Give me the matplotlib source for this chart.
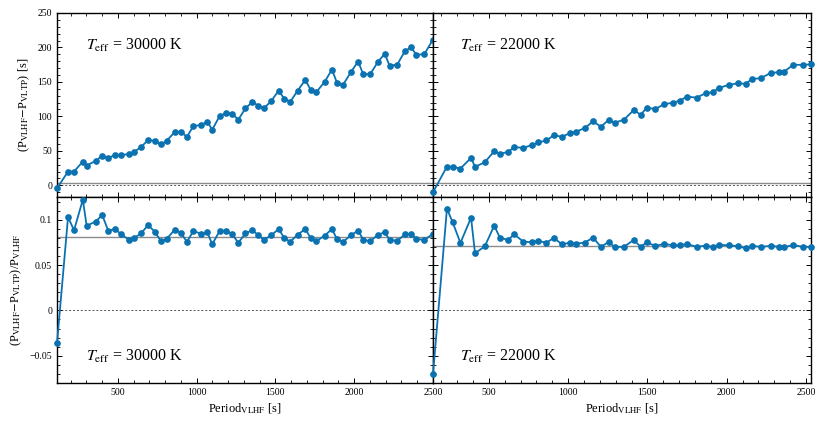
import numpy as np
import matplotlib
matplotlib.use("Agg")
import matplotlib.pyplot as plt
from matplotlib.ticker import MultipleLocator, FuncFormatter

plt.rcParams['font.family'] = ['Liberation Serif', 'DejaVu Serif']
plt.rcParams['mathtext.fontset'] = 'stix'

# ---- data: Teff = 30000 K ----
period_30 = [114, 184, 222, 278, 302, 359, 401, 439, 483, 519, 572, 605, 648, 692, 734,
             774, 810, 861, 899, 939, 979, 1027, 1068, 1099, 1146, 1188, 1226, 1264, 1310,
             1354, 1392, 1428, 1473, 1521, 1557, 1595, 1641, 1690, 1724, 1759, 1812, 1859,
             1890, 1930, 1981, 2025, 2057, 2101, 2152, 2194, 2224, 2272, 2323, 2361, 2395,
             2445, 2498]
dp_30 = [-4.4, 19.9, 19.9, 34.5, 28.6, 35.4, 42.7, 39.3, 44.2, 44.2, 45.1, 48.5, 55.8, 65.5,
         64.6, 59.2, 64.6, 77.2, 77.7, 70.4, 85.9, 87.4, 92.2, 80.6, 100.5, 104.9, 103.9, 95.1,
         111.7, 120.9, 115.5, 111.7, 122.3, 137.4, 125.2, 121.4, 137.4, 152.9, 138.3, 135.0,
         150.0, 168.0, 149.0, 146.1, 165.0, 179.6, 161.2, 161.2, 179.6, 190.8, 173.8, 174.8,
         195.1, 200.0, 189.3, 190.3, 210.7]
rel_30 = [-0.0363, 0.1029, 0.0883, 0.122, 0.0934, 0.0978, 0.1051, 0.0879, 0.0897, 0.0842,
          0.0777, 0.0799, 0.0850, 0.0941, 0.0868, 0.0762, 0.0788, 0.0890, 0.0857, 0.0755,
          0.0875, 0.0846, 0.0861, 0.0729, 0.0875, 0.0879, 0.0842, 0.0744, 0.0850, 0.0883,
          0.0828, 0.0777, 0.0828, 0.0897, 0.0795, 0.0758, 0.0835, 0.0897, 0.0795, 0.0762,
          0.0824, 0.0897, 0.0788, 0.0755, 0.0832, 0.0879, 0.0780, 0.0762, 0.0835, 0.0861,
          0.0780, 0.0766, 0.0839, 0.0842, 0.0788, 0.0777, 0.0842]

# ---- data: Teff = 22000 K ----
period_22 = [148, 236, 272, 321, 388, 413, 475, 534, 570, 622, 660, 717, 772, 810, 863, 911,
             960, 1013, 1051, 1104, 1158, 1207, 1255, 1293, 1352, 1414, 1458, 1496, 1549,
             1605, 1662, 1703, 1751, 1810, 1867, 1911, 1951, 2013, 2072, 2120, 2160, 2215,
             2278, 2331, 2363, 2420, 2479, 2532]
dp_22 = [-10.2, 27.2, 26.7, 24.3, 39.8, 26.7, 33.5, 49.5, 45.6, 48.5, 55.3, 54.4, 58.3, 62.1,
         65.0, 72.8, 70.4, 75.7, 77.7, 83.0, 92.7, 85.0, 94.7, 90.8, 95.1, 109.2, 102.4, 112.6,
         110.7, 117.5, 119.9, 122.8, 128.6, 127.2, 133.5, 135.0, 141.3, 145.6, 148.1, 147.1,
         154.4, 155.3, 163.1, 164.1, 165.0, 174.8, 174.8, 175.5]
rel_22 = [-0.0703, 0.1121, 0.0971, 0.0744, 0.1022, 0.0630, 0.0707, 0.0934, 0.0802, 0.0777,
          0.0839, 0.0758, 0.0751, 0.0766, 0.0747, 0.0799, 0.0729, 0.0747, 0.0736, 0.0747,
          0.0802, 0.0700, 0.0755, 0.0700, 0.0700, 0.0777, 0.0700, 0.0751, 0.0711, 0.0733,
          0.0718, 0.0718, 0.0733, 0.0700, 0.0714, 0.0700, 0.0722, 0.0718, 0.0707, 0.0685,
          0.0711, 0.0700, 0.0711, 0.0700, 0.0696, 0.0722, 0.0700, 0.0700]

labels = [r'$T_{\rm eff}$ = 30000 K', r'$T_{\rm eff}$ = 22000 K']
ref_top = [3.4, 3.4]
ref_bot = [0.0813, 0.0707]
x_max = [2500, 2532]

blue = '#0a72b0'
fig = plt.figure(figsize=(8.3, 4.23), dpi=100)
lefts = [57/830, 433/830]
widths = [376/830, 378/830]
top_b, top_h = 1 - 197/423, 184/423
bot_b, bot_h = 1 - 383/423, 186/423

fmt = FuncFormatter(lambda v, p: ('%g' % v).replace('-', '\u2212'))

for i, (P, D, R) in enumerate([(period_30, dp_30, rel_30), (period_22, dp_22, rel_22)]):
    axt = fig.add_axes([lefts[i], top_b, widths[i], top_h])
    axb = fig.add_axes([lefts[i], bot_b, widths[i], bot_h])
    axt.plot(P, D, '-o', color=blue, lw=1.3, ms=3.8, zorder=3, clip_on=False)
    axb.plot(P, R, '-o', color=blue, lw=1.3, ms=3.8, zorder=3, clip_on=False)
    axt.axhline(ref_top[i], color='#8c8c8c', lw=1.0, zorder=1)
    axt.axhline(0, color='#555555', lw=0.7, ls=(0, (2, 2)), zorder=1)
    axb.axhline(ref_bot[i], color='#8c8c8c', lw=1.0, zorder=1)
    axb.axhline(0, color='#555555', lw=0.7, ls=(0, (2, 2)), zorder=1)
    for ax in (axt, axb):
        ax.set_xlim(P[0], x_max[i])
        ax.xaxis.set_major_locator(MultipleLocator(500))
        ax.xaxis.set_minor_locator(MultipleLocator(100))
        ax.tick_params(which='both', direction='in', top=True, right=True, labelsize=7)
        ax.tick_params(which='major', length=3.5, width=0.7)
        ax.tick_params(which='minor', length=2, width=0.6)
        for s in ax.spines.values():
            s.set_linewidth(1.0)
        ax.yaxis.set_major_formatter(fmt)
        ax.xaxis.set_major_formatter(fmt)
    axt.set_ylim(-17, 250)
    axt.yaxis.set_major_locator(MultipleLocator(50))
    axt.yaxis.set_minor_locator(MultipleLocator(10))
    axb.set_ylim(-0.08, 0.125)
    axb.yaxis.set_major_locator(MultipleLocator(0.05))
    axb.yaxis.set_minor_locator(MultipleLocator(0.01))
    axt.tick_params(labelbottom=False)
    if i == 1:
        axt.tick_params(labelleft=False)
        axb.tick_params(labelleft=False)
    else:
        axt.set_ylabel(r'(P$_{\rm VLHF}$$-$P$_{\rm VLTP}$) [s]', fontsize=9, labelpad=4)
        axb.set_ylabel(r'(P$_{\rm VLHF}$$-$P$_{\rm VLTP}$)/P$_{\rm VLHF}$', fontsize=9, labelpad=4)
    axb.set_xlabel(r'Period$_{\rm VLHF}$ [s]', fontsize=9, labelpad=3)
    tx = 0.077 if i == 0 else 0.071
    axt.text(tx, 0.825, labels[i], transform=axt.transAxes, fontsize=11.5, va='center')
    axb.text(tx, 0.145, labels[i], transform=axb.transAxes, fontsize=11.5, va='center')

fig.savefig('out.png', dpi=100)
